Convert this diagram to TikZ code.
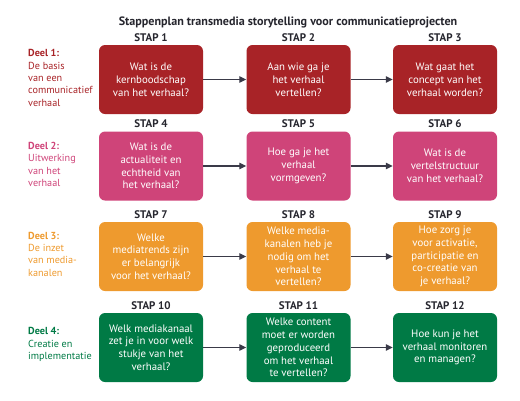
\documentclass[tikz,border=0pt]{standalone}
\usepackage{fontspec}
\setmainfont{PT Sans}
\usetikzlibrary{arrows.meta}
\definecolor{cred}{HTML}{A82327}
\definecolor{cpink}{HTML}{CF4479}
\definecolor{corange}{HTML}{EE9A2E}
\definecolor{cgreen}{HTML}{007A45}
\definecolor{cdark}{HTML}{26262E}
\definecolor{carrow}{HTML}{3A3A48}
\tikzset{
  qbox/.style={draw=none, rounded corners=6pt, minimum width=104pt, minimum height=69pt,
    text=white, align=center, font=\fontsize{10.8}{12.8}\selectfont, inner sep=1pt},
  steplabel/.style={font=\fontsize{11}{12}\selectfont\bfseries, text=cdark, anchor=south, inner sep=0pt},
  deel/.style={anchor=west, align=left, font=\fontsize{10.2}{12.3}\selectfont, inner sep=0pt},
  flow/.style={draw=carrow, line width=1.1pt, -{Triangle[length=7pt,width=6.5pt]}},
}
\begin{document}
\begin{tikzpicture}[x=1pt,y=-1pt]
\useasboundingbox (0,0) rectangle (520,400);
\node[font=\fontsize{12.1}{13}\selectfont\bfseries, text=cdark, inner sep=0pt] (title) at (288,22) {Stappenplan transmedia storytelling voor communicatieprojecten};

% row 1
\node[qbox, fill=cred] (b1) at (151,79.5) {Wat is de\\kernboodschap\\van het verhaal?};
\node[qbox, fill=cred] (b2) at (298.5,79.5) {Aan wie ga je\\het verhaal\\vertellen?};
\node[qbox, fill=cred] (b3) at (445,79.5) {Wat gaat het\\concept van het\\verhaal worden?};
% row 2
\node[qbox, fill=cpink] (b4) at (151,166) {Wat is de\\actualiteit en\\echtheid van\\het verhaal?};
\node[qbox, fill=cpink] (b5) at (298.5,166) {Hoe ga je het\\verhaal\\vormgeven?};
\node[qbox, fill=cpink] (b6) at (445,166) {Wat is de\\vertelstructuur\\van het verhaal?};
% row 3
\node[qbox, fill=corange] (b7) at (151,256.5) {Welke\\mediatrends zijn\\er belangrijk\\voor het verhaal?};
\node[qbox, fill=corange] (b8) at (298.5,256.5) {Welke media-\\kanalen heb je\\nodig om het\\verhaal te\\vertellen?};
\node[qbox, fill=corange] (b9) at (445,256.5) {Hoe zorg je\\voor activatie,\\participatie en\\co-creatie van\\je verhaal?};
% row 4
\node[qbox, fill=cgreen] (b10) at (151,347.5) {Welk mediakanaal\\zet je in voor welk\\stukje van het\\verhaal?};
\node[qbox, fill=cgreen] (b11) at (298.5,347.5) {Welke content\\moet er worden\\geproduceerd\\om het verhaal\\te vertellen?};
\node[qbox, fill=cgreen] (b12) at (445,347.5) {Hoe kun je het\\verhaal monitoren\\en managen?};

% step labels
\foreach \b/\t in {b1/STAP 1,b2/STAP 2,b3/STAP 3,b4/STAP 4,b5/STAP 5,b6/STAP 6,b7/STAP 7,b8/STAP 8,b9/STAP 9,b10/STAP 10,b11/STAP 11,b12/STAP 12}
  \node[steplabel] (l\b) at ([yshift=3pt]\b.north) {\t};

% deel labels
\node[deel, text=cred] (d1) at (28,78) {\textbf{Deel 1:}\\De basis\\van een\\communicatief\\verhaal};
\node[deel, text=cpink] (d2) at (28,164.5) {\textbf{Deel 2:}\\Uitwerking\\van het\\verhaal};
\node[deel, text=corange] (d3) at (28,254) {\textbf{Deel 3:}\\De inzet\\van media-\\kanalen};
\node[deel, text=cgreen] (d4) at (28,344.5) {\textbf{Deel 4:}\\Creatie en\\implementatie};

% arrows
\draw[flow] (b1) -- (b2);
\draw[flow] (b2) -- (b3);
\draw[flow] (b4) -- (b5);
\draw[flow] (b5) -- (b6);
\draw[flow] (b7) -- (b8);
\draw[flow] (b8) -- (b9);
\draw[flow] (b10) -- (b11);
\draw[flow] (b11) -- (b12);
\end{tikzpicture}
\end{document}
